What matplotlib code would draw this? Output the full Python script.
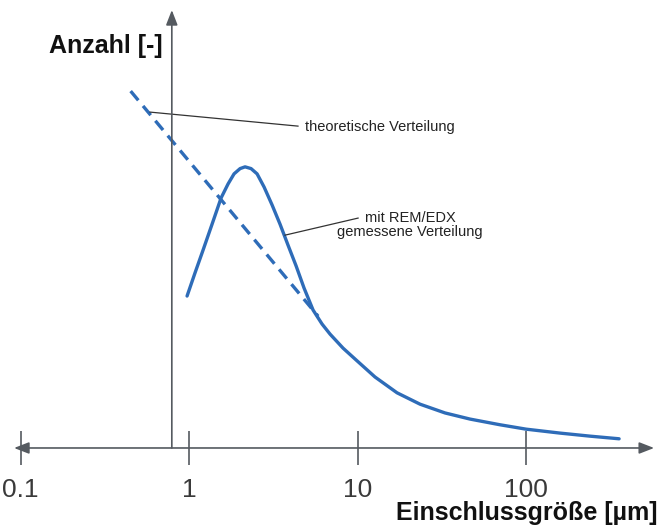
import matplotlib.pyplot as plt
import numpy as np

plt.rcParams["font.family"] = ["Liberation Sans", "DejaVu Sans"]

# Measured distribution (REM/EDX), size in um vs. count (arbitrary units)
meas_size = [0.973, 1.085, 1.211, 1.369, 1.549, 1.704, 1.849, 2.008, 2.149,
             2.333, 2.533, 2.787, 3.109, 3.467, 3.868, 4.315, 4.815, 5.444,
             6.156, 6.867, 8.20, 9.93, 12.70, 17.15, 23.49, 33.05, 46.5,
             70.1, 100, 159, 240, 356.5]
meas_count = [34.7, 40.0, 45.2, 51.1, 57.1, 60.3, 62.6, 63.8, 64.2,
              63.8, 62.6, 59.6, 55.5, 51.1, 46.3, 41.6, 36.5, 31.5,
              28.3, 26.0, 22.8, 19.9, 16.2, 12.6, 10.0, 8.0, 6.6,
              5.3, 4.3, 3.4, 2.7, 2.1]

# Theoretical distribution (straight line in log-x)
theo_size = [0.45, 5.83]
theo_count = [81.5, 30.1]

tick_vals = [0.1, 1, 10, 100]
tick_labels = ["0.1", "1", "10", "100"]

_blue = "#2e6cb8"
_axis = "#555a60"
_text = "#3a3a3a"


def main():
    fig = plt.figure(figsize=(6.61, 5.29), dpi=100)
    ax = fig.add_axes([0, 0, 1, 1])
    ax.set_xscale("log")
    ax.set_xlim(0.0755, 632)
    ax.set_ylim(-18.5, 102.3)
    ax.axis("off")

    # hand-drawn style axes with arrow heads
    ax.annotate("", xy=(575, 0), xytext=(0.0915, 0),
                arrowprops=dict(arrowstyle="<|-|>,head_length=0.9,head_width=0.35",
                                color=_axis, lw=1.2, shrinkA=0, shrinkB=0))
    ax.annotate("", xy=(0.79, 100), xytext=(0.79, 0),
                arrowprops=dict(arrowstyle="-|>,head_length=0.9,head_width=0.35",
                                color=_axis, lw=1.2, shrinkA=0, shrinkB=0))
    ax.vlines(tick_vals, -3.8, 3.8, color=_axis, lw=1.2)
    for v, lab in zip(tick_vals, tick_labels):
        ax.text(v, -9.6, lab, ha="center", va="center", fontsize=19, color=_text)

    ax.plot(meas_size, meas_count, color=_blue, lw=2.4,
            solid_capstyle="round", solid_joinstyle="round")
    ax.plot(theo_size, theo_count, color=_blue, lw=2.4, dashes=(3.6, 2.2))

    # leader lines + annotations
    ax.plot([0.587, 4.43], [76.7, 73.5], color="#333333", lw=0.9)
    ax.text(4.88, 73.3, "theoretische Verteilung", ha="left", va="center",
            fontsize=10.5, color="#222222")
    ax.plot([3.71, 10.07], [48.6, 52.5], color="#333333", lw=0.9)
    ax.text(20.5, 51.0, "mit REM/EDX\ngemessene Verteilung", ha="center",
            va="center", fontsize=10.5, color="#222222", linespacing=1.0)

    ax.text(0.074, 0.913, "Anzahl [-]", transform=ax.transAxes, ha="left",
            va="center", fontsize=18, fontweight="bold", color="#111111")
    ax.text(0.995, 0.030, "Einschlussgröße [µm]", transform=ax.transAxes,
            ha="right", va="center", fontsize=18, fontweight="bold",
            color="#111111")

    fig.savefig("out.png", dpi=100, facecolor="white")
    plt.close(fig)


if __name__ == "__main__":
    main()
